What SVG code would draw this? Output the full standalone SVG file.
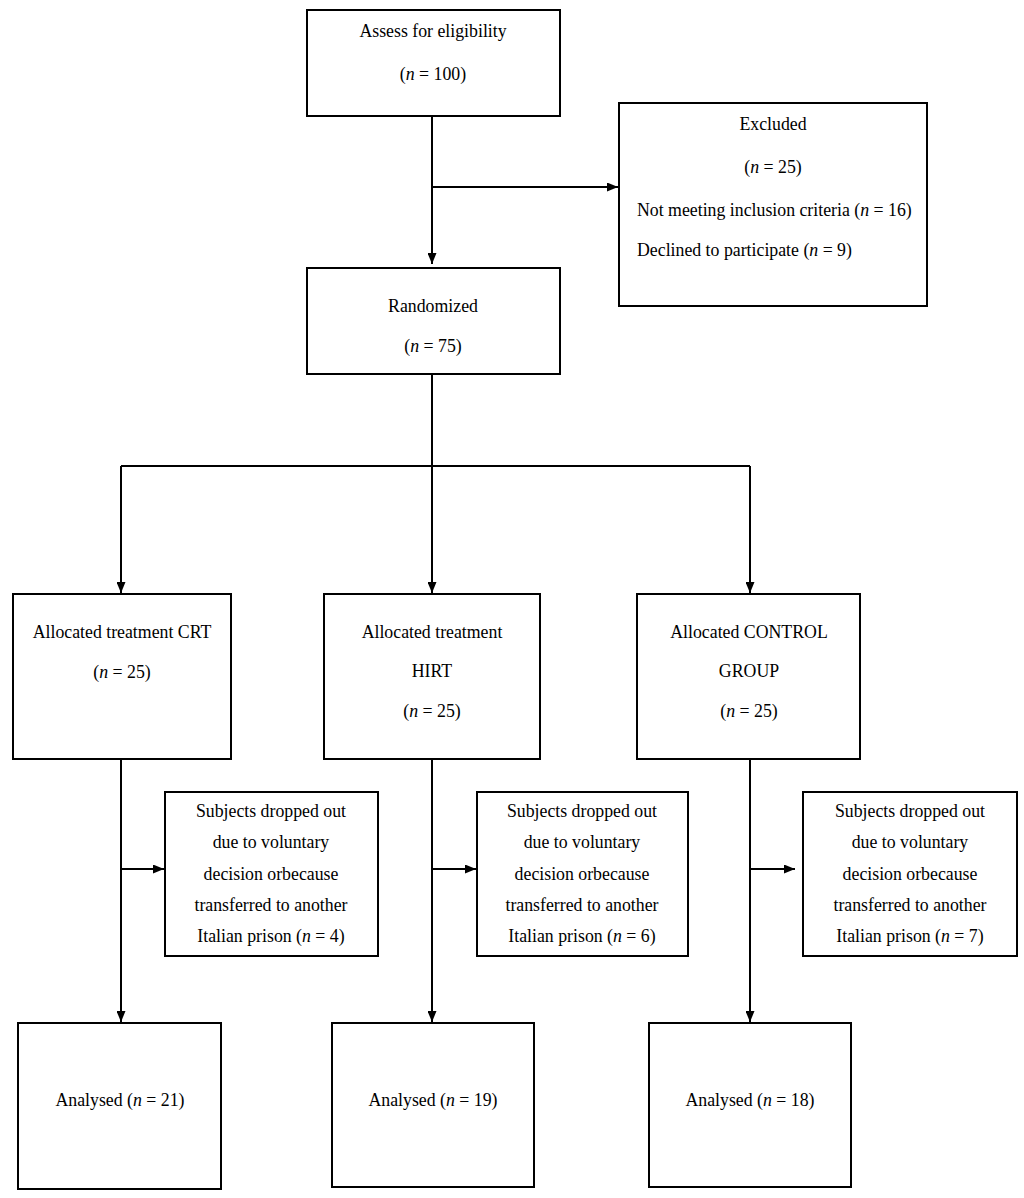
<svg xmlns="http://www.w3.org/2000/svg" width="1024" height="1198" viewBox="0 0 1024 1198">
<style>
.box{fill:#fff;stroke:#000;stroke-width:2}
.ln{fill:none;stroke:#000;stroke-width:2}
text{font-family:"Liberation Serif","Times New Roman",serif;font-size:17.8px;fill:#000}
.c{text-anchor:middle}
</style>
<defs>
<marker id="ah" viewBox="0 0 11 9" refX="11" refY="4.5" markerWidth="11" markerHeight="9" markerUnits="userSpaceOnUse" orient="auto">
<path d="M0,0 L11,4.5 L0,9 Z" fill="#000"/>
</marker>
</defs>
<rect width="1024" height="1198" fill="#fff"/>
<g id="connectors">
<path class="ln" d="M432,116 V264" marker-end="url(#ah)"/>
<path class="ln" d="M432,187 H618" marker-end="url(#ah)"/>
<path class="ln" d="M432,374 V466"/>
<path class="ln" d="M121,466 H750"/>
<path class="ln" d="M121,466 V593" marker-end="url(#ah)"/>
<path class="ln" d="M432,466 V593" marker-end="url(#ah)"/>
<path class="ln" d="M750,466 V593" marker-end="url(#ah)"/>
<path class="ln" d="M121,759 V1022" marker-end="url(#ah)"/>
<path class="ln" d="M432,759 V1022" marker-end="url(#ah)"/>
<path class="ln" d="M750,759 V1022" marker-end="url(#ah)"/>
<path class="ln" d="M121,869 H164" marker-end="url(#ah)"/>
<path class="ln" d="M432,869 H476" marker-end="url(#ah)"/>
<path class="ln" d="M750,869 H795" marker-end="url(#ah)"/>
</g>
<g id="assess">
<rect class="box" x="307" y="10" width="253" height="106"/>
<text class="c" x="433" y="37">Assess for eligibility</text>
<text class="c" x="433" y="80">(<tspan font-style="italic">n</tspan> = 100)</text>
</g>
<g id="excluded">
<rect class="box" x="619" y="103" width="308" height="203"/>
<text class="c" x="773" y="130">Excluded</text>
<text class="c" x="773" y="173">(<tspan font-style="italic">n</tspan> = 25)</text>
<text x="637" y="216">Not meeting inclusion criteria (<tspan font-style="italic">n</tspan> = 16)</text>
<text x="637" y="256">Declined to participate (<tspan font-style="italic">n</tspan> = 9)</text>
</g>
<g id="randomized">
<rect class="box" x="307" y="268" width="253" height="106"/>
<text class="c" x="433" y="312">Randomized</text>
<text class="c" x="433" y="352">(<tspan font-style="italic">n</tspan> = 75)</text>
</g>
<g id="crt">
<rect class="box" x="13" y="594" width="218" height="165"/>
<text class="c" x="122" y="638">Allocated treatment CRT</text>
<text class="c" x="122" y="678">(<tspan font-style="italic">n</tspan> = 25)</text>
</g>
<g id="hirt">
<rect class="box" x="324" y="594" width="216" height="165"/>
<text class="c" x="432" y="638">Allocated treatment</text>
<text class="c" x="432" y="677">HIRT</text>
<text class="c" x="432" y="717">(<tspan font-style="italic">n</tspan> = 25)</text>
</g>
<g id="control">
<rect class="box" x="637" y="594" width="223" height="165"/>
<text class="c" x="749" y="638">Allocated CONTROL</text>
<text class="c" x="749" y="677">GROUP</text>
<text class="c" x="749" y="717">(<tspan font-style="italic">n</tspan> = 25)</text>
</g>
<g id="drop-crt">
<rect class="box" x="165" y="792" width="213" height="164"/>
<text class="c" x="271" y="817">Subjects dropped out</text>
<text class="c" x="271" y="848">due to voluntary</text>
<text class="c" x="271" y="880">decision orbecause</text>
<text class="c" x="271" y="911">transferred to another</text>
<text class="c" x="271" y="942">Italian prison (<tspan font-style="italic">n</tspan> = 4)</text>
</g>
<g id="drop-hirt">
<rect class="box" x="477" y="792" width="211" height="164"/>
<text class="c" x="582" y="817">Subjects dropped out</text>
<text class="c" x="582" y="848">due to voluntary</text>
<text class="c" x="582" y="880">decision orbecause</text>
<text class="c" x="582" y="911">transferred to another</text>
<text class="c" x="582" y="942">Italian prison (<tspan font-style="italic">n</tspan> = 6)</text>
</g>
<g id="drop-control">
<rect class="box" x="803" y="792" width="214" height="164"/>
<text class="c" x="910" y="817">Subjects dropped out</text>
<text class="c" x="910" y="848">due to voluntary</text>
<text class="c" x="910" y="880">decision orbecause</text>
<text class="c" x="910" y="911">transferred to another</text>
<text class="c" x="910" y="942">Italian prison (<tspan font-style="italic">n</tspan> = 7)</text>
</g>
<g id="analysed-crt">
<rect class="box" x="18" y="1023" width="203" height="166"/>
<text class="c" x="120" y="1106">Analysed (<tspan font-style="italic">n</tspan> = 21)</text>
</g>
<g id="analysed-hirt">
<rect class="box" x="332" y="1023" width="202" height="164"/>
<text class="c" x="433" y="1106">Analysed (<tspan font-style="italic">n</tspan> = 19)</text>
</g>
<g id="analysed-control">
<rect class="box" x="649" y="1023" width="202" height="164"/>
<text class="c" x="750" y="1106">Analysed (<tspan font-style="italic">n</tspan> = 18)</text>
</g>
</svg>
